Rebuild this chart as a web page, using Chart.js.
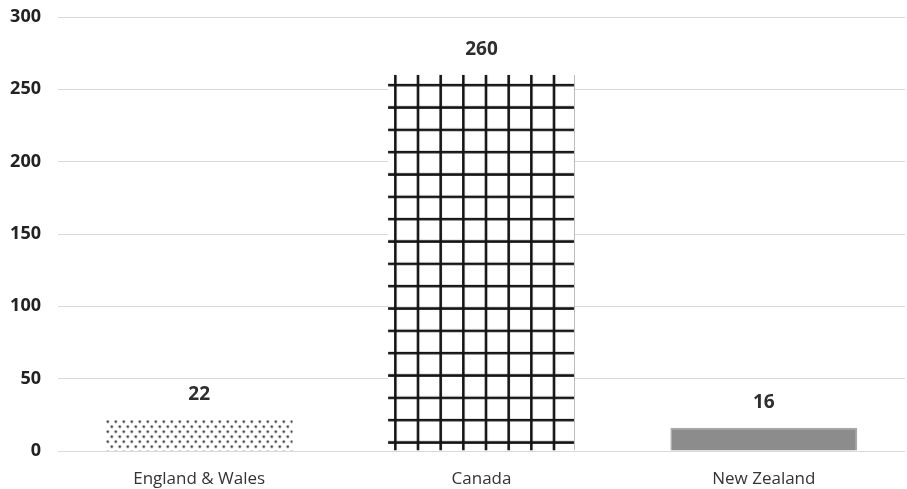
<!DOCTYPE html>
<html>
<head>
<meta charset="utf-8">
<script src="https://cdn.jsdelivr.net/npm/chart.js@4/dist/chart.umd.min.js"></script>
<style>
  html, body { margin: 0; padding: 0; background: #fff; }
  #wrap { width: 907px; height: 489px; }
</style>
</head>
<body>
<div id="wrap"><canvas id="c" width="907" height="489"></canvas></div>
<script>
const categories = ['England & Wales', 'Canada', 'New Zealand'];
const values = [22, 260, 16];
const yTicks = [0, 50, 100, 150, 200, 250, 300];

const FONT = '"Open Sans", "Liberation Sans", sans-serif';

// Fine staggered dot fill
function dotPattern() {
  const t = document.createElement('canvas');
  t.width = 8; t.height = 10;
  const g = t.getContext('2d');
  g.fillStyle = '#ffffff';
  g.fillRect(0, 0, 8, 10);
  g.fillStyle = '#3a3a3a';
  [[2, 2.5], [6, 7.5]].forEach(([x, y]) => {
    g.beginPath(); g.arc(x, y, 1.3, 0, Math.PI * 2); g.fill();
  });
  return g.createPattern(t, 'repeat');
}

// Heavy black lattice fill (3x3 cells per tile)
function gridPattern() {
  const t = document.createElement('canvas');
  const w = 68, h = 67;
  t.width = w; t.height = h;
  const g = t.getContext('2d');
  g.fillStyle = '#ffffff';
  g.fillRect(0, 0, w, h);
  g.strokeStyle = '#151515';
  g.lineWidth = 2.6;
  for (let i = 0; i < 3; i++) {
    const x = 1.3 + i * w / 3;
    g.beginPath(); g.moveTo(x, 0); g.lineTo(x, h); g.stroke();
    const y = 1.3 + i * h / 3;
    g.beginPath(); g.moveTo(0, y); g.lineTo(w, y); g.stroke();
  }
  return g.createPattern(t, 'repeat');
}

const fills = [dotPattern(), gridPattern(), '#8c8c8c'];
const patternOffsets = [[0, 0], [6, 9], [0, 0]];

// Anchor each pattern to its own bar's top-left corner
const patternAnchor = {
  id: 'patternAnchor',
  beforeDatasetsDraw(chart) {
    const meta = chart.getDatasetMeta(0);
    meta.data.forEach((bar, i) => {
      const f = fills[i];
      if (typeof f === 'string') return;
      const left = bar.x - bar.width / 2;
      const [dx, dy] = patternOffsets[i];
      f.setTransform(new DOMMatrix().translate(left + dx, bar.y + dy));
    });
  }
};

// Value labels above bars
const valueLabels = {
  id: 'valueLabels',
  afterDatasetsDraw(chart) {
    const ctx = chart.ctx;
    const meta = chart.getDatasetMeta(0);
    ctx.save();
    ctx.font = 'bold 19px ' + FONT;
    ctx.fillStyle = '#2e2e2e';
    ctx.textAlign = 'center';
    ctx.textBaseline = 'middle';
    meta.data.forEach((bar, i) => {
      ctx.fillText(String(values[i]), bar.x, bar.y - 25);
    });
    ctx.restore();
  }
};

new Chart(document.getElementById('c'), {
  type: 'bar',
  data: {
    labels: categories,
    datasets: [{
      data: values,
      backgroundColor: fills,
      borderColor: ['rgba(0,0,0,0)', '#b5b5b5', '#a8a8a8'],
      borderWidth: [
        0,
        { left: 0, right: 1, top: 0, bottom: 0 },
        1.5
      ],
      categoryPercentage: 1,
      barPercentage: 0.662
    }]
  },
  options: {
    responsive: false,
    animation: false,
    events: [],
    layout: { padding: { top: 17, right: 2, left: 0, bottom: 0 } },
    plugins: { legend: { display: false }, tooltip: { enabled: false } },
    scales: {
      x: {
        grid: { display: false, drawTicks: false },
        border: { display: false },
        ticks: {
          padding: 18,
          color: '#333333',
          font: { family: FONT, size: 17 }
        },
        afterFit(scale) { scale.height = 38; }
      },
      y: {
        min: 0,
        max: 300,
        afterBuildTicks(scale) { scale.ticks = yTicks.map(v => ({ value: v })); },
        grid: { color: '#d9d9d9', lineWidth: 1, drawTicks: false },
        border: { display: false },
        ticks: {
          padding: 17,
          color: '#222222',
          font: { family: FONT, size: 18, weight: 'bold' }
        },
        afterFit(scale) {
          scale.width = 58;
          scale.paddingTop = 0;
          scale.paddingBottom = 0;
        }
      }
    }
  },
  plugins: [patternAnchor, valueLabels]
});
</script>
</body>
</html>
